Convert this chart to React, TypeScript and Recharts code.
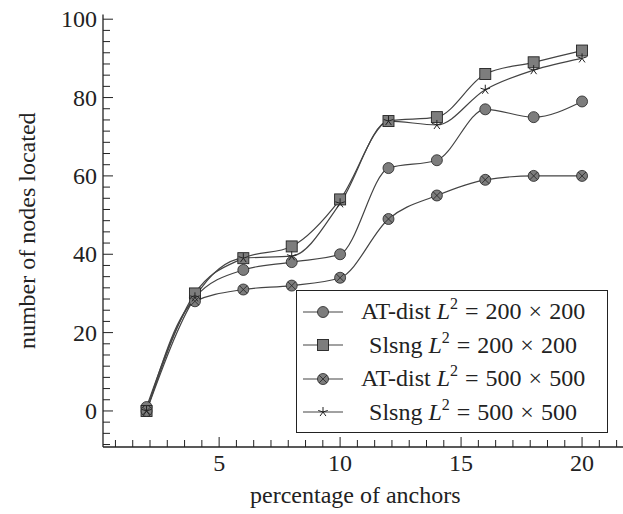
import { LineChart, Line, XAxis, YAxis } from 'recharts';

const xValues = [2, 4, 6, 8, 10, 12, 14, 16, 18, 20];
const atDist200 = [1, 29, 36, 38, 40, 62, 64, 77, 75, 79];
const slsng200 = [0, 30, 39, 42, 54, 74, 75, 86, 89, 92];
const atDist500 = [0, 28, 31, 32, 34, 49, 55, 59, 60, 60];
const slsng500 = [0, 29, 39, 39.5, 53, 74, 73, 82, 87, 90];

const xMajorTicks = [5, 10, 15, 20];
const yMajorTicks = [0, 20, 40, 60, 80, 100];
const xDomain: [number, number] = [0.2, 21.8];
const yDomain: [number, number] = [-9.2, 101.2];

const legendNames = ['AT-dist', 'Slsng', 'AT-dist', 'Slsng'];
const legendSides = ['200', '200', '500', '500'];
const markerKinds = ['circle', 'square', 'otimes', 'star'];

// minor ticks: 6 between majors, like pgfplots "minor tick num=6"
function withMinor(majors: number[], domain: [number, number]) {
    const step = (majors[1] - majors[0]) / 7;
    const out: number[] = [];
    for (let k = 0; majors[0] - k * step >= domain[0]; k++) out.push(majors[0] - k * step);
    for (let k = 1; majors[0] + k * step <= domain[1]; k++) out.push(majors[0] + k * step);
    return out.sort((a, b) => a - b);
}
const xTicks = withMinor(xMajorTicks, xDomain);
const yTicks = withMinor(yMajorTicks, yDomain);
const isMajor = (v: number, majors: number[]) => majors.some((m) => Math.abs(m - v) < 1e-6);

const data = xValues.map((x, i) => ({
    x,
    at200: atDist200[i],
    sl200: slsng200[i],
    at500: atDist500[i],
    sl500: slsng500[i],
}));

const FONT = "'Liberation Serif', 'DejaVu Serif', serif";
const INK = '#222';
const LINE = '#444';
const FILL = '#7d7d7d';

function Marker({ kind, cx, cy }: { kind: string; cx: number; cy: number }) {
    if (kind === 'circle') return <circle cx={cx} cy={cy} r={5.5} fill={FILL} stroke={INK} strokeWidth={0.8} />;
    if (kind === 'square')
        return <rect x={cx - 5.5} y={cy - 5.5} width={11} height={11} fill={FILL} stroke={INK} strokeWidth={0.9} />;
    if (kind === 'otimes') {
        const d = 5.5 * 0.707;
        return (
            <g stroke={INK} strokeWidth={0.8}>
                <circle cx={cx} cy={cy} r={5.5} fill={FILL} />
                <line x1={cx - d} y1={cy - d} x2={cx + d} y2={cy + d} />
                <line x1={cx - d} y1={cy + d} x2={cx + d} y2={cy - d} />
            </g>
        );
    }
    const arms = [0, 1, 2, 3, 4].map((k) => {
        const a = -Math.PI / 2 + (k * 2 * Math.PI) / 5;
        return <line key={k} x1={cx} y1={cy} x2={cx + 5 * Math.cos(a)} y2={cy + 5 * Math.sin(a)} />;
    });
    return <g stroke={INK} strokeWidth={1}>{arms}</g>;
}

const dotFor = (kind: string) => (p: any) => <Marker key={`${kind}-${p.index}`} kind={kind} cx={p.cx} cy={p.cy} />;

function BottomTick({ x, y, payload }: any) {
    const major = isMajor(payload.value, xMajorTicks);
    return (
        <g>
            <line x1={x} y1={y} x2={x} y2={y - (major ? 10 : 7)} stroke={INK} strokeWidth={1} />
            {major && (
                <text x={x} y={y + 24} textAnchor="middle" fontFamily={FONT} fontSize={24} fill={INK}>
                    {Math.round(payload.value)}
                </text>
            )}
        </g>
    );
}

function TopTick({ x, y, payload }: any) {
    const major = isMajor(payload.value, xMajorTicks);
    return <line x1={x} y1={y} x2={x} y2={y + (major ? 10 : 7)} stroke={INK} strokeWidth={1} />;
}

function LeftTick({ x, y, payload }: any) {
    const major = isMajor(payload.value, yMajorTicks);
    return (
        <g>
            <line x1={x} y1={y} x2={x + (major ? 10 : 7)} y2={y} stroke={INK} strokeWidth={1} />
            {major && (
                <text x={x - 6} y={y + 8} textAnchor="end" fontFamily={FONT} fontSize={24} fill={INK}>
                    {Math.round(payload.value)}
                </text>
            )}
        </g>
    );
}

function RightTick({ x, y, payload }: any) {
    const major = isMajor(payload.value, yMajorTicks);
    return <line x1={x} y1={y} x2={x - (major ? 10 : 7)} y2={y} stroke={INK} strokeWidth={1} />;
}

const op = { margin: '0 7px' };

function LegendBox() {
    return (
        <div
            style={{
                position: 'absolute',
                left: 296,
                top: 290,
                width: 312,
                height: 143,
                boxSizing: 'border-box',
                border: `1.3px solid ${INK}`,
                background: '#fff',
                padding: '4px 4px 0 6px',
                fontFamily: FONT,
                fontSize: 24,
                color: INK,
            }}
        >
            {legendNames.map((name, i) => (
                <div key={i} style={{ display: 'flex', alignItems: 'center', height: 33.5 }}>
                    <svg width={40} height={20} style={{ flex: 'none' }}>
                        <line x1={0} y1={10} x2={40} y2={10} stroke={LINE} strokeWidth={1.2} />
                        <Marker kind={markerKinds[i]} cx={20} cy={10} />
                    </svg>
                    <span style={{ flex: 1, textAlign: 'center', whiteSpace: 'nowrap' }}>
                        {name} <i>L</i>
                        <sup style={{ fontSize: 16, verticalAlign: 'baseline', position: 'relative', top: -10 }}>2</sup>
                        <span style={op}>=</span>
                        {legendSides[i]}
                        <span style={op}>×</span>
                        {legendSides[i]}
                    </span>
                </div>
            ))}
        </div>
    );
}

export default function App() {
    return (
        <div style={{ position: 'fixed', left: 0, top: 0, width: 623, height: 514, overflow: 'hidden', background: '#fff' }}>
            <LineChart width={640} height={514} data={data} margin={{ top: 14.5, right: 14.4, left: 43, bottom: 37 }}>
                <XAxis
                    dataKey="x"
                    type="number"
                    domain={xDomain}
                    ticks={xTicks}
                    interval={0}
                    height={30}
                    tickSize={0}
                    tickMargin={0}
                    tickLine={false}
                    tick={<BottomTick />}
                    axisLine={{ stroke: INK, strokeWidth: 1.3 }}
                    allowDataOverflow
                    label={(p: any) => (
                        <text
                            x={p.viewBox.x + p.viewBox.width / 2 - 9}
                            y={p.viewBox.y + 56}
                            textAnchor="middle"
                            fontFamily={FONT}
                            fontSize={24}
                            fill={INK}
                        >
                            percentage of anchors
                        </text>
                    )}
                />
                <XAxis
                    xAxisId="top"
                    orientation="top"
                    type="number"
                    domain={xDomain}
                    ticks={xTicks}
                    interval={0}
                    height={0}
                    tickSize={0}
                    tickMargin={0}
                    tickLine={false}
                    tick={<TopTick />}
                    axisLine={{ stroke: INK, strokeWidth: 1.3 }}
                    allowDataOverflow
                />
                <YAxis
                    type="number"
                    domain={yDomain}
                    ticks={yTicks}
                    interval={0}
                    width={60}
                    tickSize={0}
                    tickMargin={0}
                    tickLine={false}
                    tick={<LeftTick />}
                    axisLine={{ stroke: INK, strokeWidth: 1.3 }}
                    allowDataOverflow
                    label={(p: any) => (
                        <text
                            x={35}
                            y={p.viewBox.y + p.viewBox.height / 2}
                            transform={`rotate(-90 35 ${p.viewBox.y + p.viewBox.height / 2})`}
                            textAnchor="middle"
                            fontFamily={FONT}
                            fontSize={24}
                            fill={INK}
                        >
                            number of nodes located
                        </text>
                    )}
                />
                <YAxis
                    yAxisId="right"
                    orientation="right"
                    type="number"
                    domain={yDomain}
                    ticks={yTicks}
                    interval={0}
                    width={0}
                    tickSize={0}
                    tickMargin={0}
                    tickLine={false}
                    tick={<RightTick />}
                    axisLine={{ stroke: INK, strokeWidth: 1.3 }}
                    allowDataOverflow
                />
                <Line type="monotone" dataKey="at200" stroke={LINE} strokeWidth={1.2} dot={dotFor('circle')} isAnimationActive={false} />
                <Line type="monotone" dataKey="sl200" stroke={LINE} strokeWidth={1.2} dot={dotFor('square')} isAnimationActive={false} />
                <Line type="monotone" dataKey="at500" stroke={LINE} strokeWidth={1.2} dot={dotFor('otimes')} isAnimationActive={false} />
                <Line type="monotone" dataKey="sl500" stroke={LINE} strokeWidth={1.2} dot={dotFor('star')} isAnimationActive={false} />
            </LineChart>
            <LegendBox />
        </div>
    );
}
